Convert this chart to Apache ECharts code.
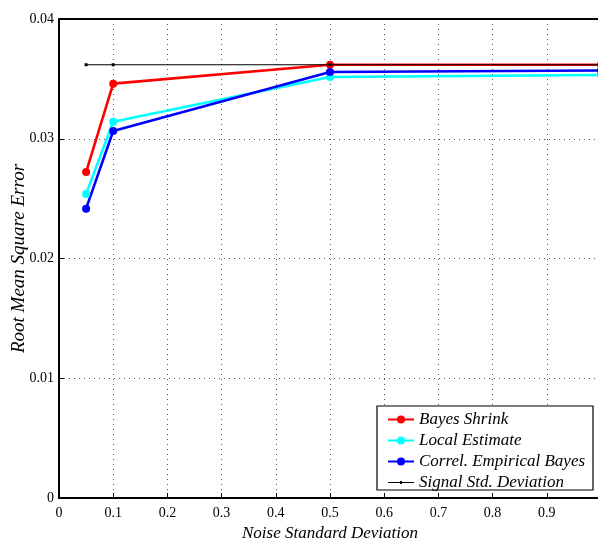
<!DOCTYPE html>
<html>
<head>
<meta charset="utf-8">
<script src="https://cdn.jsdelivr.net/npm/echarts@6/dist/echarts.min.js"></script>
<style>
  html, body { margin: 0; padding: 0; background: #fff; }
  #chart { width: 598px; height: 540px; }
</style>
</head>
<body>
<div id="chart"></div>
<script>
// Noise standard deviations at which each estimator was evaluated
const noiseLevels = [0.05, 0.1, 0.5, 1.0];

// Root mean square error of each estimator
const bayesShrink = [0.02722, 0.03460, 0.03618, 0.03618];
const localEstimate = [0.02539, 0.03142, 0.03516, 0.03532];
const correlEmpiricalBayes = [0.02416, 0.03065, 0.03557, 0.03570];
const signalStdDeviation = [0.03618, 0.03618, 0.03618, 0.03618];

const seriesNames = ['Bayes Shrink', 'Local Estimate', 'Correl. Empirical Bayes', 'Signal Std. Deviation'];

const SERIF = '"Liberation Serif", "DejaVu Serif", serif';

function pairs(ys) {
  return noiseLevels.map((x, i) => [x, ys[i]]);
}

function estimatorSeries(name, ys, color) {
  return {
    name: name,
    type: 'line',
    data: pairs(ys),
    symbol: 'circle',
    symbolSize: 8,
    showSymbol: true,
    lineStyle: { color: color, width: 2.6 },
    itemStyle: { color: color },
    z: 3
  };
}

const chart = echarts.init(document.getElementById('chart'), null, { renderer: 'canvas' });

const gridLine = { show: true, lineStyle: { color: '#555', type: [1, 4], width: 1 } };

chart.setOption({
  backgroundColor: '#fff',
  animation: false,
  grid: {
    left: 59, top: 19, width: 542, height: 479,
    containLabel: false,
    outerBoundsMode: 'none'
  },
  xAxis: [{
    type: 'value',
    min: 0,
    max: 1,
    interval: 0.1,
    position: 'bottom',
    name: 'Noise Standard Deviation',
    nameLocation: 'middle',
    nameGap: 27,
    nameMoveOverlap: false,
    nameTextStyle: { fontFamily: SERIF, fontStyle: 'italic', fontSize: 17, color: '#000' },
    axisLine: { show: true, onZero: false, lineStyle: { color: '#000', width: 2 } },
    axisTick: { show: true, inside: true, length: 5, lineStyle: { color: '#000' } },
    axisLabel: {
      fontFamily: SERIF, fontSize: 14, color: '#000', margin: 8,
      showMaxLabel: false,
      formatter: v => (v === 0 ? '0' : String(Math.round(v * 10) / 10))
    },
    splitLine: gridLine
  }, {
    type: 'value',
    min: 0,
    max: 1,
    interval: 0.1,
    position: 'top',
    axisLine: { show: true, onZero: false, lineStyle: { color: '#000', width: 2 } },
    axisTick: { show: false },
    axisLabel: { show: false },
    splitLine: { show: false }
  }],
  yAxis: {
    type: 'value',
    min: 0,
    max: 0.04,
    interval: 0.01,
    name: 'Root Mean Square Error',
    nameLocation: 'middle',
    nameGap: 31,
    nameMoveOverlap: false,
    nameTextStyle: { fontFamily: SERIF, fontStyle: 'italic', fontSize: 19, color: '#000' },
    axisLine: { show: true, onZero: false, lineStyle: { color: '#000', width: 2 } },
    axisTick: { show: true, inside: true, length: 5, lineStyle: { color: '#000' } },
    axisLabel: {
      fontFamily: SERIF, fontSize: 14, color: '#000', margin: 5,
      formatter: v => (v === 0 ? '0' : v.toFixed(2))
    },
    splitLine: gridLine
  },
  legend: {
    orient: 'vertical',
    left: 382,
    top: 406,
    itemWidth: 26,
    itemHeight: 10,
    itemGap: 4,
    data: [
      seriesNames[0],
      seriesNames[1],
      seriesNames[2],
      {
        name: seriesNames[3],
        icon: 'path://M0,4.4 L26,4.4 L26,5.6 L0,5.6 Z M12,3.6 L14,3.6 L14,6.4 L12,6.4 Z'
      }
    ],
    textStyle: { fontFamily: SERIF, fontStyle: 'italic', fontSize: 17, color: '#000' },
    z: 10
  },
  graphic: [{
    type: 'rect',
    shape: { x: 377, y: 406, width: 216, height: 84 },
    style: { fill: '#fff', stroke: '#000', lineWidth: 1.2 },
    z: 5
  }],
  series: [
    estimatorSeries(seriesNames[0], bayesShrink, '#ff0000'),
    estimatorSeries(seriesNames[1], localEstimate, '#00ffff'),
    estimatorSeries(seriesNames[2], correlEmpiricalBayes, '#0000ff'),
    {
      name: seriesNames[3],
      type: 'line',
      data: pairs(signalStdDeviation),
      symbol: 'rect',
      symbolSize: 3,
      lineStyle: { color: '#000', width: 1.2 },
      itemStyle: { color: '#000' },
      z: 4
    }
  ]
});
</script>
</body>
</html>
